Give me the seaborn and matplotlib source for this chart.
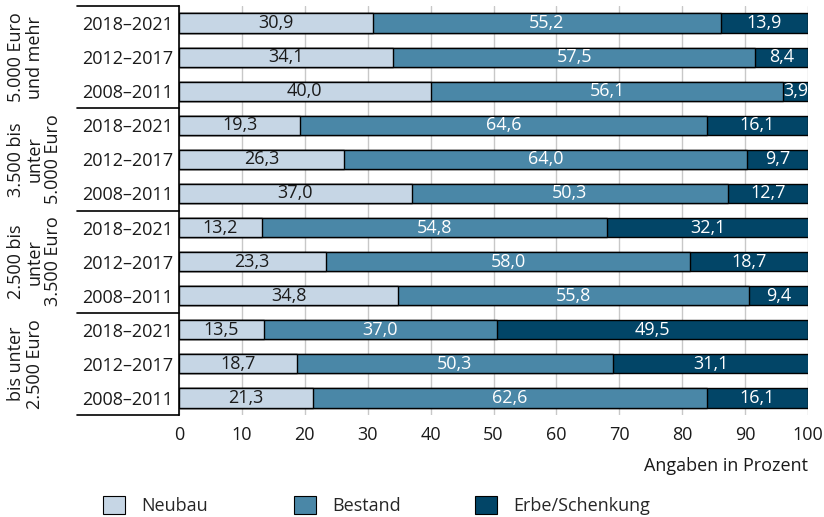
import matplotlib
matplotlib.use("Agg")
import matplotlib.pyplot as plt
import seaborn as sns
import pandas as pd
import numpy as np
from matplotlib.patches import Patch

groups = ["5.000 Euro\nund mehr", "3.500 bis\nunter\n5.000 Euro",
          "2.500 bis\nunter\n3.500 Euro", "bis unter\n2.500 Euro"]
periods = ["2018–2021", "2012–2017", "2008–2011"]
series = ["Neubau", "Bestand", "Erbe/Schenkung"]
neubau = [30.9, 34.1, 40.0, 19.3, 26.3, 37.0, 13.2, 23.3, 34.8, 13.5, 18.7, 21.3]
bestand = [55.2, 57.5, 56.1, 64.6, 64.0, 50.3, 54.8, 58.0, 55.8, 37.0, 50.3, 62.6]
erbe = [13.9, 8.4, 3.9, 16.1, 9.7, 12.7, 32.1, 18.7, 9.4, 49.5, 31.1, 16.1]
colors = ["#c6d6e5", "#4a87a7", "#024567"]

sns.set_theme(style="white")
plt.rcParams["font.family"] = ["Open Sans", "DejaVu Sans"]
FS = 13

rows = [f"r{i}" for i in range(len(neubau))]
ylabels = [p for _ in groups for p in periods]
df = pd.DataFrame({"row": rows, "Neubau": neubau, "Bestand": bestand, "Erbe": erbe})
df["c1"] = df["Neubau"]
df["c2"] = df["Neubau"] + df["Bestand"]
df["c3"] = df["c2"] + df["Erbe"]

fig = plt.figure(figsize=(8.24, 5.17), dpi=100)
ax = fig.add_axes([179/824, 1-415/517, 629/824, 409/517])

for col, c in zip(["c3", "c2", "c1"], colors[::-1]):
    sns.barplot(data=df, y="row", x=col, order=rows, orient="h", color=c,
                width=0.56, edgecolor="black", linewidth=1.0, saturation=1,
                ax=ax, zorder=3)

# value labels
for i in range(len(rows)):
    lefts = [0, df.loc[i, "c1"], df.loc[i, "c2"]]
    vals = [neubau[i], bestand[i], erbe[i]]
    for k, (l, v) in enumerate(zip(lefts, vals)):
        ax.text(l + v/2, i, f"{v:.1f}".replace(".", ","), ha="center", va="center",
                fontsize=FS, color="#1a1a1a" if k == 0 else "white", zorder=5)

ax.set_xlim(0, 100)
ax.set_ylim(len(rows) - 0.5, -0.5)
ax.set_xticks(range(0, 101, 10))
ax.set_xticklabels([str(v) for v in range(0, 101, 10)], fontsize=FS)
ax.set_yticks(range(len(rows)))
ax.set_yticklabels(ylabels, fontsize=FS)
ax.tick_params(axis="both", length=0, colors="#1a1a1a")
ax.tick_params(axis="x", pad=8)
ax.tick_params(axis="y", pad=4)
ax.set_xlabel("")
ax.set_ylabel("")
ax.xaxis.grid(True, color="#c8c8c8", linewidth=1.0, zorder=0)
ax.set_axisbelow(True)
for s in ["top", "right", "bottom"]:
    ax.spines[s].set_visible(False)
ax.spines["left"].set_color("black")
ax.spines["left"].set_linewidth(1.2)

# group separators and labels
xl = (77 - 179) / 629
for b in [-0.5, 2.5, 5.5, 8.5, 11.5]:
    ax.plot([xl, 0], [b, b], transform=ax.get_yaxis_transform(), color="black",
            linewidth=1.2, clip_on=False, zorder=6)
for g, name in enumerate(groups):
    ax.text((7 - 179) / 629, g*3 + 1, name, transform=ax.get_yaxis_transform(),
            rotation=90, ha="left", va="center", multialignment="center",
            fontsize=FS, color="#1a1a1a", linespacing=1.05)

fig.text(808/824, 1-466/517, "Angaben in Prozent", ha="right", va="center",
         fontsize=FS, color="#1a1a1a")

xs = [103, 294, 475]
for x, c, s in zip(xs, colors, series):
    h = [Patch(facecolor=c, edgecolor="black", linewidth=0.8)]
    fig.legend(h, [s], loc="upper left", bbox_to_anchor=(x/824, 1-496/517),
               frameon=False, fontsize=FS, borderpad=0, borderaxespad=0,
               handlelength=1.2, handleheight=1.15, handletextpad=0.9)

fig.savefig("out.png", dpi=100)
